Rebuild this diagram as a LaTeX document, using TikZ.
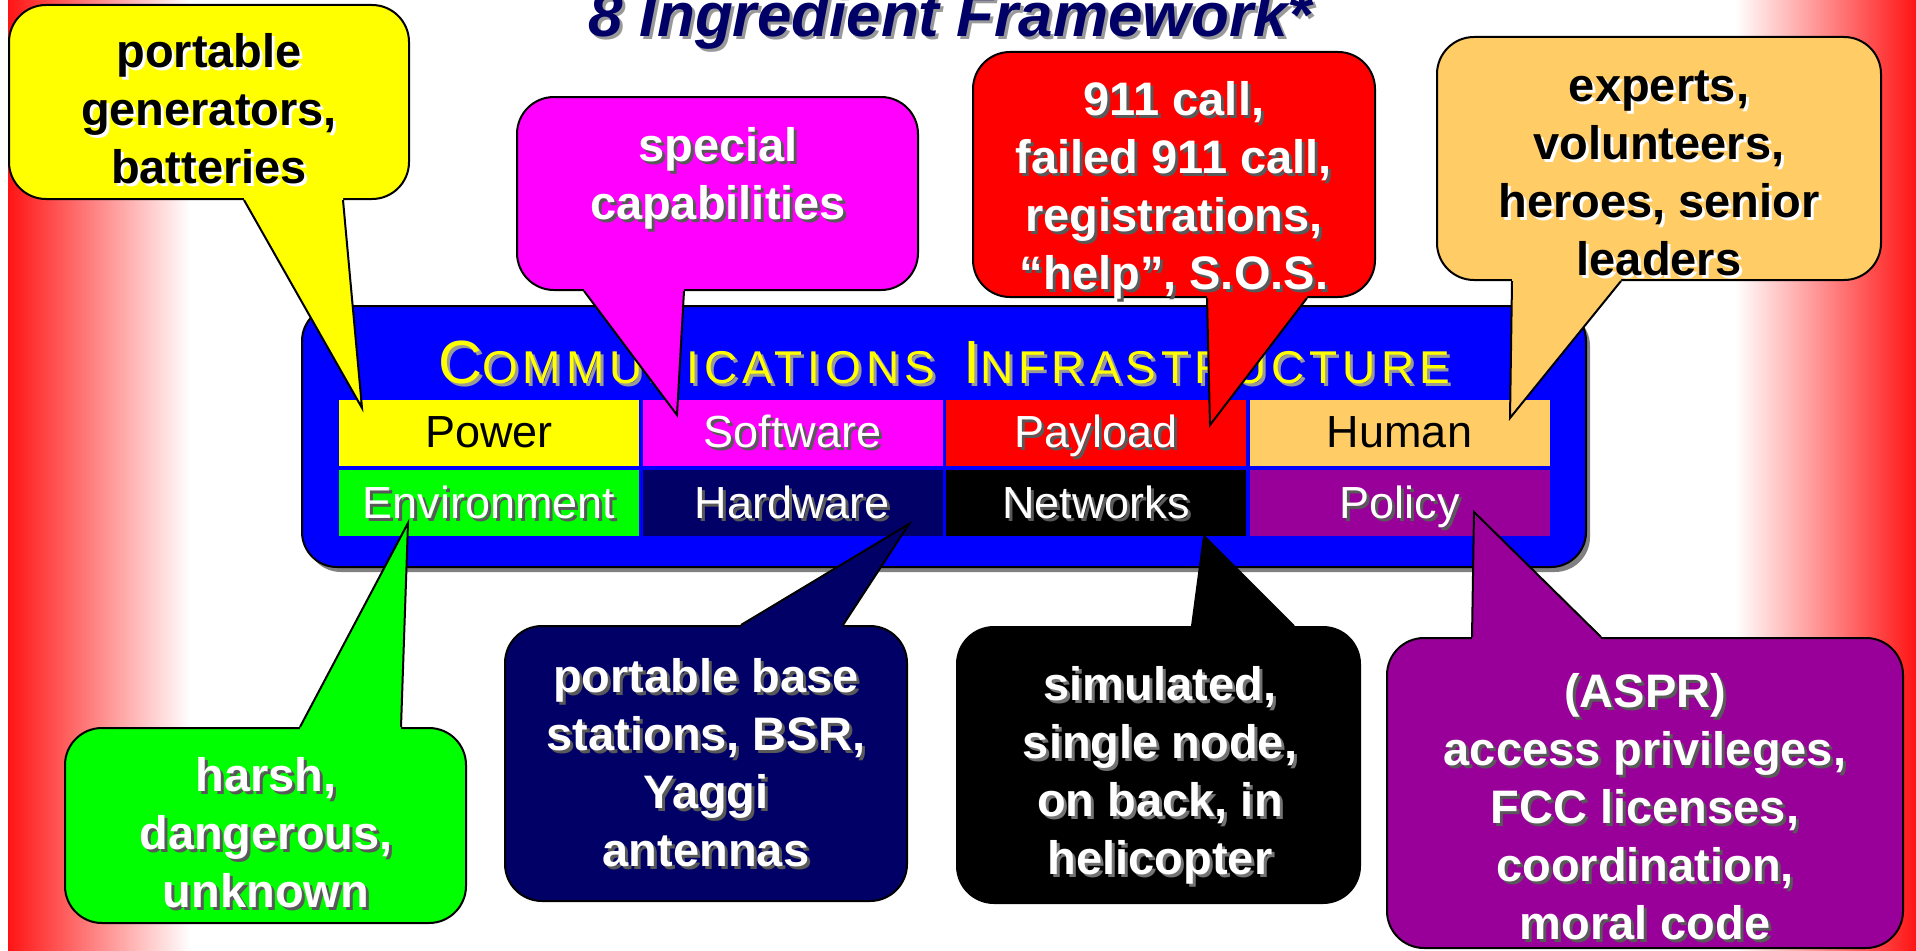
\documentclass[tikz,border=0pt]{standalone}
\usepackage{fontspec}
\setmainfont{Liberation Sans}
\usetikzlibrary{shadows}
\definecolor{infrablue}{RGB}{0,0,255}
\definecolor{poweryellow}{RGB}{255,255,0}
\definecolor{softmagenta}{RGB}{255,0,255}
\definecolor{payloadred}{RGB}{255,0,0}
\definecolor{humanorange}{RGB}{255,204,102}
\definecolor{envgreen}{RGB}{0,255,0}
\definecolor{hardnavy}{RGB}{0,0,102}
\definecolor{policypurple}{RGB}{153,0,153}
\definecolor{titlenavy}{RGB}{0,0,102}
\definecolor{bandred}{RGB}{255,20,20}

\newcommand{\capbig}[1]{{\fontsize{61}{61}\selectfont #1}}
% text drawn twice: shadow first, then the text itself
\newcommand{\shadowlabel}[5]{%
  \node[#1, text=#3] at ([shift={(3,3)}]#2) {#5};
  \node[#1] (#4) at (#2) {#5};}
% wedge from a callout box to its tip
\newcommand{\calltail}[6]{%
  \fill[#1] ([xshift=#4pt]#2.#3) -- (#6) -- ([xshift=#5pt]#2.#3)
    -- ([xshift=#5pt]#2.center) -- ([xshift=#4pt]#2.center) -- cycle;
  \draw[tailline] ([xshift=#4pt]#2.#3) -- (#6) -- ([xshift=#5pt]#2.#3);}

\begin{document}
\begin{tikzpicture}[
    x=1pt, y=-1pt,
    notebox/.style={draw=black, line width=2pt, rounded corners=37pt, inner sep=0pt},
    notefont/.style={font=\bfseries\fontsize{47}{58}\selectfont, align=center, inner sep=0pt},
    cellbox/.style={inner sep=0pt, minimum width=300pt, minimum height=66pt},
    cellfont/.style={font=\fontsize{45}{45}\selectfont, inner sep=0pt, anchor=base},
    headfont/.style={font=\fontsize{46}{46}\selectfont\addfontfeatures{LetterSpace=11}, inner sep=0pt, anchor=base},
    titlefont/.style={font=\bfseries\itshape\fontsize{62}{62}\selectfont, inner sep=0pt, anchor=base},
    tailline/.style={draw=black, line width=2pt}
]
    \useasboundingbox (0,0) rectangle (1916,950);
    \clip (0,0) rectangle (1916,950);

    % Side bands
    \shade[left color=bandred, middle color=bandred!28, right color=white] (8,0) rectangle (190,950);
    \shade[left color=white, middle color=bandred!28, right color=bandred] (1735,0) rectangle (1916,950);

    % Title
    \shadowlabel{titlefont, text=titlenavy}{950,37}{black!40}{title}{8 Ingredient Framework*}

    % Infrastructure panel
    \node[draw=black, line width=2pt, fill=infrablue, rounded corners=35pt, inner sep=0pt,
          minimum width=1284pt, minimum height=261pt,
          drop shadow={shadow xshift=4pt, shadow yshift=-5pt, fill=black!50, opacity=1}]
          (infra) at (944,436.5) {};
    \shadowlabel{headfont, text=poweryellow}{944,383}{black!40}{infratitle}{\capbig{C}OMMUNICATIONS\hspace{28pt}\capbig{I}NFRASTRUCTURE}

    % Ingredients
    \foreach \nm/\x/\y/\lab/\bg/\fg/\sh in {
        power/489/432.5/Power/poweryellow/black/poweryellow,
        software/792.5/432.5/Software/softmagenta/white/black!65,
        payload/1096/432.5/Payload/payloadred/white/black!65,
        human/1399.5/432.5/Human/humanorange/black/humanorange,
        environment/489/503/Environment/envgreen/white/black!65,
        hardware/792.5/503/Hardware/hardnavy/white/black!65,
        networks/1096/503/Networks/black/white/black!65,
        policy/1399.5/503/Policy/policypurple/white/black!65}
    {
        \node[cellbox, fill=\bg] (\nm) at (\x,\y) {};
        \shadowlabel{cellfont, text=\fg}{\x,\y+15}{\sh}{\nm-label}{\lab}
    }

    % Callouts above
    \node[notebox, fill=poweryellow, minimum width=400pt, minimum height=194pt] (powerbox) at (209,102) {};
    \coordinate (powertip) at (362,408);
    \calltail{poweryellow}{powerbox}{south}{35}{134}{powertip}
    \shadowlabel{notefont, text=black}{209,109}{white}{powertext}{portable\\generators,\\batteries}

    \node[notebox, fill=softmagenta, minimum width=401pt, minimum height=193pt] (softwarebox) at (717.5,193.5) {};
    \coordinate (softwaretip) at (677,415);
    \calltail{softmagenta}{softwarebox}{south}{-133.5}{-33.5}{softwaretip}
    \shadowlabel{notefont, text=white}{718,178}{black!65}{softwaretext}{special\\capabilities}

    \node[notebox, fill=payloadred, minimum width=402pt, minimum height=245pt] (payloadbox) at (1174,174.5) {};
    \coordinate (payloadtip) at (1210,425);
    \calltail{payloadred}{payloadbox}{south}{33}{133}{payloadtip}
    \shadowlabel{notefont, text=white}{1174,190}{black!65}{payloadtext}{911 call,\\failed 911 call,\\registrations,\\“help”, S.O.S.}

    \node[notebox, fill=humanorange, minimum width=444pt, minimum height=243pt] (humanbox) at (1659,158.5) {};
    \coordinate (humantip) at (1510,418);
    \calltail{humanorange}{humanbox}{south}{-147}{-38}{humantip}
    \shadowlabel{notefont, text=black}{1659,173}{white}{humantext}{experts,\\volunteers,\\heroes, senior\\leaders}

    % Callouts below
    \node[notebox, fill=envgreen, minimum width=401pt, minimum height=195pt] (environmentbox) at (265.5,825.5) {};
    \coordinate (environmenttip) at (408,523);
    \calltail{envgreen}{environmentbox}{north}{34.5}{135.5}{environmenttip}
    \shadowlabel{notefont, text=white}{266,832.5}{black!65}{environmenttext}{harsh,\\dangerous,\\unknown}

    \node[notebox, fill=hardnavy, minimum width=402pt, minimum height=275pt] (hardwarebox) at (706,763.5) {};
    \coordinate (hardwaretip) at (909,524);
    \calltail{hardnavy}{hardwarebox}{north}{35}{137}{hardwaretip}
    \shadowlabel{notefont, text=white}{706,762.5}{black!65}{hardwaretext}{portable base\\stations, BSR,\\Yaggi\\antennas}

    \node[notebox, fill=black, minimum width=403pt, minimum height=276pt] (networksbox) at (1158.5,765) {};
    \coordinate (networkstip) at (1204,536);
    \calltail{black}{networksbox}{north}{33.5}{135.5}{networkstip}
    \shadowlabel{notefont, text=white}{1160,775}{black!55}{networkstext}{simulated,\\single node,\\on back, in\\helicopter}

    \node[notebox, fill=policypurple, minimum width=516pt, minimum height=310pt] (policybox) at (1645,793) {};
    \coordinate (policytip) at (1474,512);
    \calltail{policypurple}{policybox}{north}{-173}{-44}{policytip}
    \shadowlabel{notefont, text=white}{1645,807}{black!65}{policytext}{(ASPR)\\access privileges,\\FCC licenses,\\coordination,\\moral code}
\end{tikzpicture}
\end{document}
